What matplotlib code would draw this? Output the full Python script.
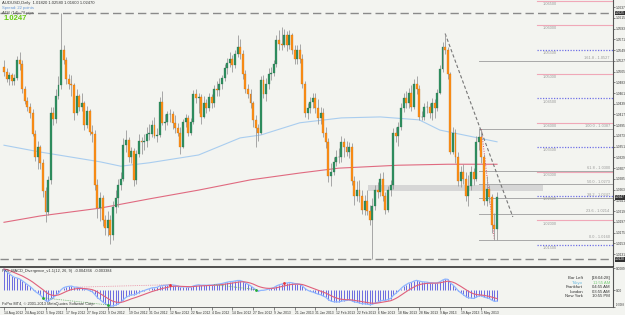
import numpy as np
import matplotlib
matplotlib.use("Agg")
import matplotlib.pyplot as plt
from matplotlib.lines import Line2D
from matplotlib.patches import Rectangle

plt.rcParams["font.family"] = ["Liberation Sans", "DejaVu Sans"]

# ---------------- data (prices in pips above 1.0000) ----------------
open_first_pips = 515
close_pips = [505, 490, 498, 485, 492, 528, 520, 470, 445, 432,
              420, 378, 330, 350, 318, 260, 218, 282, 420, 408,
              455, 478, 550, 528, 490, 480, 478, 420, 455, 432,
              440, 395, 425, 382, 378, 272, 225, 245, 200, 185,
              200, 170, 228, 245, 272, 285, 355, 365, 330, 342,
              282, 335, 362, 360, 362, 378, 378, 395, 372, 375,
              442, 400, 402, 418, 418, 400, 390, 380, 350, 402,
              410, 380, 402, 460, 450, 452, 412, 440, 430, 452,
              440, 470, 468, 480, 492, 512, 522, 530, 518, 542,
              555, 540, 500, 470, 460, 440, 405, 390, 380, 488,
              458, 480, 500, 502, 520, 570, 562, 560, 580, 560,
              580, 550, 530, 550, 530, 480, 420, 430, 442, 450,
              430, 410, 420, 380, 360, 290, 300, 320, 330, 330,
              360, 350, 340, 350, 280, 250, 262, 250, 222, 240,
              220, 200, 230, 262, 258, 285, 250, 222, 262, 272,
              380, 372, 392, 430, 450, 440, 462, 432, 480, 470,
              412, 412, 432, 432, 420, 440, 430, 462, 510, 555,
              550, 500, 340, 380, 330, 280, 300, 285, 250, 270,
              300, 285, 360, 370, 330, 240, 265, 248, 190, 182, 247]
high_pips = [528, 512, 505, 502, 500, 536, 545, 528, 475, 452,
             440, 428, 385, 362, 355, 325, 268, 290, 432, 432,
             470, 495, 625, 560, 535, 500, 498, 482, 470, 460,
             462, 445, 435, 428, 395, 385, 285, 258, 252, 210,
             220, 210, 240, 262, 285, 300, 368, 385, 370, 350,
             348, 345, 378, 370, 378, 392, 398, 405, 412, 390,
             452, 465, 418, 425, 428, 425, 415, 400, 392, 408,
             418, 415, 410, 468, 470, 462, 460, 455, 448, 462,
             458, 478, 485, 492, 498, 520, 532, 545, 538, 550,
             580, 572, 550, 508, 480, 470, 445, 415, 398, 495,
             498, 492, 512, 515, 528, 580, 590, 596, 592, 588,
             590, 585, 560, 560, 562, 540, 485, 440, 452, 462,
             462, 448, 432, 430, 392, 368, 318, 330, 345, 348,
             372, 368, 362, 360, 358, 290, 280, 282, 262, 252,
             262, 232, 245, 272, 278, 298, 300, 258, 270, 282,
             390, 392, 402, 440, 462, 465, 472, 478, 490, 495,
             478, 425, 440, 445, 440, 450, 448, 470, 518, 565,
             583, 555, 505, 392, 388, 340, 312, 315, 300, 292,
             312, 308, 372, 388, 387, 335, 290, 272, 255, 215, 258]
low_pips = [495, 483, 478, 478, 478, 488, 508, 462, 438, 425,
            410, 372, 322, 305, 305, 248, 196, 210, 275, 395,
            400, 448, 470, 520, 480, 470, 455, 405, 415, 425,
            425, 385, 390, 375, 360, 262, 205, 198, 188, 170,
            168, 152, 160, 215, 228, 262, 280, 340, 320, 318,
            270, 275, 330, 335, 345, 350, 365, 370, 368, 360,
            370, 395, 385, 395, 402, 388, 380, 372, 335, 348,
            392, 372, 375, 398, 440, 420, 398, 410, 420, 425,
            430, 432, 455, 455, 470, 485, 500, 515, 505, 512,
            535, 530, 490, 462, 450, 430, 392, 350, 362, 378,
            450, 445, 470, 488, 495, 515, 550, 550, 555, 548,
            552, 540, 520, 520, 522, 472, 412, 408, 420, 430,
            420, 398, 398, 370, 348, 278, 270, 292, 312, 318,
            320, 330, 332, 328, 272, 232, 240, 238, 212, 210,
            210, 190, 120, 222, 245, 250, 240, 212, 218, 250,
            265, 360, 352, 385, 422, 430, 430, 425, 428, 460,
            405, 405, 405, 420, 410, 405, 410, 425, 458, 505,
            540, 490, 335, 335, 318, 270, 268, 275, 240, 230,
            262, 272, 280, 345, 318, 232, 230, 235, 175, 160, 160]

date_labels = ["14 Aug 2012", "24 Aug 2012", "5 Sep 2012", "17 Sep 2012", "27 Sep 2012",
               "9 Oct 2012", "19 Oct 2012", "31 Oct 2012", "12 Nov 2012", "22 Nov 2012",
               "4 Dec 2012", "14 Dec 2012", "27 Dec 2012", "9 Jan 2013", "21 Jan 2013",
               "31 Jan 2013", "12 Feb 2013", "22 Feb 2013", "6 Mar 2013", "18 Mar 2013",
               "28 Mar 2013", "9 Apr 2013", "19 Apr 2013", "1 May 2013"]
date_step = 8

ma_slow_idx = [0, 14, 37, 56, 75, 95, 114, 129, 152, 171, 190]
ma_slow_val = [1.0196, 1.0209, 1.0225, 1.0244, 1.0262, 1.0283, 1.0297, 1.0307, 1.0313, 1.0315, 1.0315]
ma_fast_idx = [0, 14, 37, 45, 56, 75, 91, 99, 114, 130, 145, 160, 168, 190]
ma_fast_val = [1.0354, 1.0340, 1.0320, 1.0311, 1.0318, 1.0334, 1.0369, 1.0375, 1.0400,
               1.0410, 1.0412, 1.0406, 1.0385, 1.0361]

price_ticks = [1.0637, 1.0615, 1.0593, 1.0571, 1.0549, 1.0527, 1.0505, 1.0483, 1.0461,
               1.0439, 1.0417, 1.0395, 1.0373, 1.0351, 1.0329, 1.0307, 1.0285, 1.0263,
               1.0241, 1.0219, 1.0197, 1.0175, 1.0153, 1.0131]

levels_solid = [1.065, 1.060, 1.050, 1.040, 1.030, 1.020]
levels_dotted = [1.055, 1.045, 1.035, 1.025, 1.015]
level_start = 205.4

fib_low, fib_high = 1.0160, 1.0387
fib_low_idx, fib_high_idx = 189, 184
fib_ratios = [0.0, 23.6, 38.2, 50.0, 61.8, 100.0, 161.8]
fib_start = 183

band_idx = (140.3, 207.7)
band_price = (1.0260, 1.0272)

trend_idx = (170, 196.1)
trend_price = (1.0583, 1.0207)

macd_seed = (1.0545, 1.0450, 0.0085)   # ema12, ema26, signal before first bar
div_low_idx = [15, 40, 97]
div_high_idx = [64, 108]
div_low_pairs = [(15, 40), (81, 97)]
div_high_pairs = [(28, 64)]

info_names = ["Bar Left", "Tokyo", "Frankfurt", "London", "New York"]
info_vals = ["[18:04:28]", "11:55 AM", "04:55 AM", "03:55 AM", "10:55 PM"]

# ---------------- derived ----------------
c = 1 + np.array(close_pips) / 10000.0
h = 1 + np.array(high_pips) / 10000.0
l = 1 + np.array(low_pips) / 10000.0
o = np.concatenate([[1 + open_first_pips / 10000.0], c[:-1]])
h = np.maximum(h, np.maximum(o, c))
l = np.minimum(l, np.minimum(o, c))
n = len(c)
x = np.arange(n)

e12, e26, sig = macd_seed
macd, signal = [], []
for v in c:
    e12 += (2 / 13) * (v - e12)
    e26 += (2 / 27) * (v - e26)
    m = e12 - e26
    sig += (2 / 10) * (m - sig)
    macd.append(m)
    signal.append(sig)
macd = np.array(macd)
signal = np.array(signal)

# ---------------- figure ----------------
W, H = 625, 315
BG = "#f3f4f0"
BULL = "#2e9060"
BEAR = "#ff9016"
WICK = "#9a9a9a"
GRAYTXT = "#9a9a9a"
AXFS = 2.3

fig = plt.figure(figsize=(W / 100, H / 100), dpi=100)
fig.patch.set_facecolor(BG)
ax = fig.add_axes([0, (H - 266) / H, 613 / W, 266 / H])
axi = fig.add_axes([0, (H - 307) / H, 613 / W, (307 - 268) / H])
for a in (ax, axi):
    a.set_facecolor(BG)
    for s in a.spines.values():
        s.set_visible(False)
    a.spines["right"].set_visible(True)
    a.spines["right"].set_color("#555555")
    a.spines["right"].set_linewidth(0.8)

XL = (-1.54, 234.7)
ax.set_xlim(*XL)
ax.set_ylim(1.01064, 1.06517)

# level lines on the right
for lv in levels_solid:
    ax.plot([level_start, XL[1]], [lv, lv], color="#f0a8b8", lw=0.8, zorder=1)
    ax.text(level_start + 2.3, lv - 0.00025, f"{lv:.5f}", fontsize=2.8, color=GRAYTXT,
            va="top", ha="left", clip_on=True)
for lv in levels_dotted:
    ax.plot([level_start, XL[1]], [lv, lv], color="#6f6fe6", lw=0.9, ls=(0, (1, 1.2)), zorder=1)
    ax.text(level_start + 2.3, lv - 0.00025, f"{lv:.5f}", fontsize=2.8, color=GRAYTXT,
            va="top", ha="left")

# band
ax.add_patch(Rectangle((band_idx[0], band_price[0]), band_idx[1] - band_idx[0],
                       band_price[1] - band_price[0], facecolor="#d6d6d6",
                       edgecolor="none", zorder=1))

# fibonacci
rng = fib_high - fib_low
for r in fib_ratios:
    lv = fib_low + rng * r / 100
    ax.plot([fib_start, XL[1]], [lv, lv], color="#a8a8a8", lw=0.7, zorder=2)
    ax.text(233.4, lv + 0.0002, f"{r:.1f} - {lv:.4f}", fontsize=2.8, color=GRAYTXT,
            ha="right", va="bottom")
ax.plot([fib_high_idx, fib_low_idx], [fib_high, fib_low], color="#e05070", lw=0.7,
        ls=(0, (1, 1.5)), zorder=2)

# period high / low dashed lines
ph, pl = h.max(), l.min()
for lv in (ph, pl):
    ax.axhline(lv, color="#8a8a8a", lw=1.0, ls=(0, (6, 3)), zorder=2)

# moving averages
ax.plot(ma_fast_idx, ma_fast_val, color="#a9cdef", lw=0.8, zorder=2)
ax.plot(ma_slow_idx, ma_slow_val, color="#e06a80", lw=0.8, zorder=2)

# trend line
ax.plot(trend_idx, trend_price, color="#777777", lw=0.8, ls=(0, (3, 2)), zorder=2)

# candles
ax.vlines(x, l, h, color=WICK, lw=0.6, zorder=3)
up = c >= o
body = np.maximum(np.abs(c - o), 0.00008)
bottom = np.minimum(o, c)
ax.bar(x[up], body[up], bottom=bottom[up], width=0.75, color=BULL,
       edgecolor="#2a6e4c", linewidth=0.2, zorder=4)
ax.bar(x[~up], body[~up], bottom=bottom[~up], width=0.75, color=BEAR,
       edgecolor="#c06a10", linewidth=0.2, zorder=4)

# right price axis
ax.yaxis.tick_right()
ax.set_yticks(price_ticks)
ax.set_yticklabels([f"{t:.4f}" for t in price_ticks])
ax.tick_params(axis="y", labelsize=AXFS, length=1.5, width=0.5, pad=0.6,
               colors="#555555", labelcolor="#333333")
ax.set_xticks([])
for lv in (ph, c[-1], pl):
    ax.text(1.0035, lv, f"{lv:.4f}", transform=ax.get_yaxis_transform(), fontsize=AXFS,
            color="white", va="center", ha="left",
            bbox=dict(boxstyle="square,pad=0.12", facecolor="#303030", edgecolor="none"))

# top-left info
fig.text(2 / W, 1 - 3 / H, f"AUDUSD,Daily  {o[-1]:.5f} {h[-1]:.5f} {l[-1]:.5f} {c[-1]:.5f}",
         fontsize=3, color="#333333", va="center")
fig.text(2 / W, 1 - 7.5 / H, "Spread: 22 points", fontsize=3, color="#6a9ad8", va="center")
fig.text(2 / W, 1 - 13 / H, "ATR (14): 78 pips", fontsize=3, color="#555555", va="center")
fig.text(4 / W, 1 - 19 / H, f"{c[-1]:.4f}", fontsize=5.5, color="#66cc11",
         fontweight="bold", va="center")

# ---------------- indicator ----------------
axi.set_xlim(*XL)
top = max(macd.max(), signal.max()) * 1.05
bot = min(macd.min(), signal.min()) * 1.05
axi.set_ylim(bot, top)
axi.vlines(x, 0, macd, color="#6a6ae0", lw=0.7, zorder=2)
axi.plot(x, macd, color="#8fb6ff", lw=0.9, zorder=3)
axi.plot(x, signal, color="#e0607c", lw=0.8, zorder=3)
for a_, b_ in div_low_pairs:
    axi.plot([a_, b_], [macd[a_], macd[b_]], color="#66aa66", lw=0.6, ls=(0, (1, 1.2)), zorder=3)
for a_, b_ in div_high_pairs:
    axi.plot([a_, b_], [macd[a_], macd[b_]], color="#e88aa0", lw=0.6, ls=(0, (1, 1.2)), zorder=3)
axi.scatter(div_low_idx, macd[div_low_idx], s=4, color="#22aa33", zorder=5, linewidths=0)
axi.scatter(div_high_idx, macd[div_high_idx], s=4, color="#ee3333", zorder=5, linewidths=0)

axi.yaxis.tick_right()
axi.set_yticks([top, 0, bot])
axi.set_yticklabels([f"{top:.4f}", "0.00", f"{bot:.4f}"])
axi.tick_params(axis="y", labelsize=AXFS, length=1.5, width=0.5, pad=0.6,
                colors="#555555", labelcolor="#333333")
axi.get_yticklabels()[2].set_fontsize(1.9)
axi.get_yticklabels()[2].set_va("bottom")
tick_idx = [k * date_step for k in range(len(date_labels))]
axi.set_xticks(tick_idx)
axi.set_xticklabels(date_labels, ha="left")
axi.tick_params(axis="x", labelsize=2.4, length=2, width=0.5, pad=0.8,
                colors="#555555", labelcolor="#333333")
axi.spines["bottom"].set_visible(True)
axi.spines["bottom"].set_color("#555555")
axi.spines["bottom"].set_linewidth(0.6)

axi.text(0.003, 0.97, f"FX5_MACD_Divergence_v1.1(12, 26, 9)  {macd[-1]:.6f}  {signal[-1]:.6f}",
         transform=axi.transAxes, fontsize=2.8, color="#333333", va="top")
fig.text(2 / W, 1 - 303.5 / H, "FxPro MT4, \u00a9 2001-2013 MetaQuotes Software Corp.",
         fontsize=2.8, color="#333333", va="center")

for k, (nm, vv) in enumerate(zip(info_names, info_vals)):
    yy = 1 - (278 + 4.6 * k) / H
    col_n = "#66b8e0" if nm == "Tokyo" else "#333333"
    col_v = "#77cc77" if nm == "Tokyo" else "#333333"
    fig.text(583 / W, yy, nm, fontsize=3.1, color=col_n, ha="right", va="center")
    fig.text(610 / W, yy, vv, fontsize=3.1, color=col_v, ha="right", va="center")

# separators
fig.add_artist(Line2D([0, 613 / W], [1 - 267 / H, 1 - 267 / H], color="#333333", lw=1.2))

fig.savefig("out.png", dpi=100, facecolor=BG)
